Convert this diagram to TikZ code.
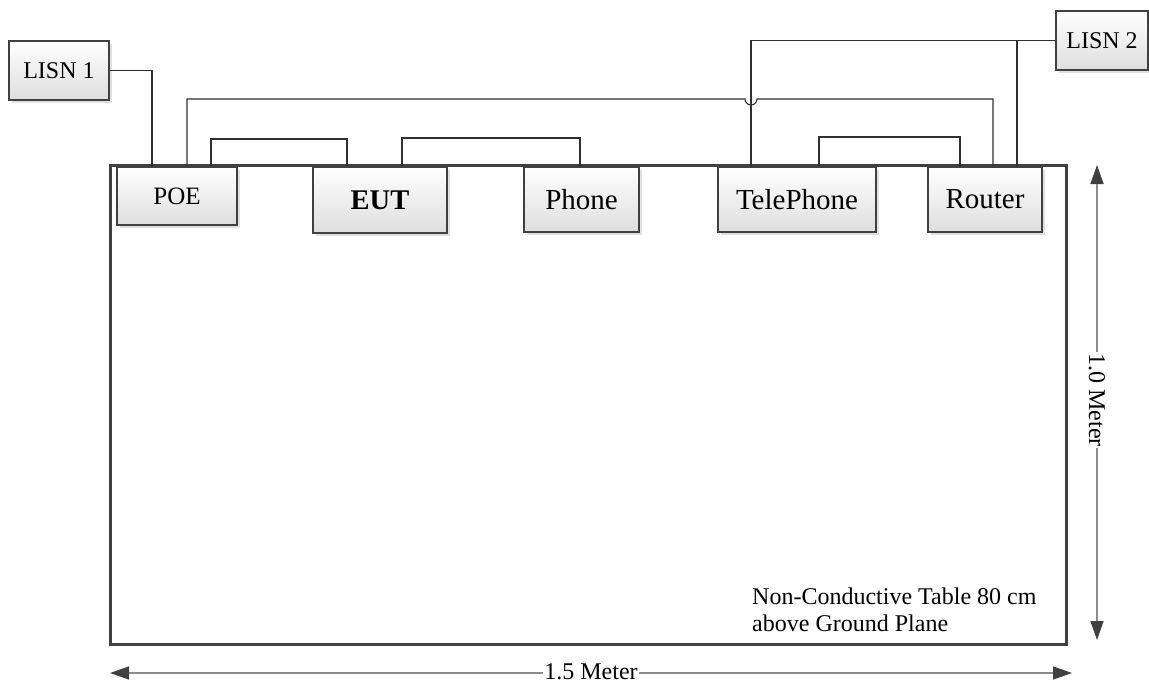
\documentclass[tikz,border=0pt]{standalone}
\usepackage{fontspec}
\setmainfont{Liberation Serif}
\usetikzlibrary{arrows.meta,shadows}
\definecolor{edge}{HTML}{404040}
\definecolor{dimline}{HTML}{8C8C8C}
\definecolor{wire}{HTML}{303030}
\tikzset{
  devbox/.style={draw=edge, line width=2pt, top color=white, bottom color=black!13,
    drop shadow={shadow xshift=3pt, shadow yshift=-3pt, fill=black!12, opacity=1},
    inner sep=0pt, anchor=north west},
  wireline/.style={draw=wire, line width=1.1pt},
  dimarrow/.style={draw=dimline, line width=1.4pt,
    {Triangle[length=19pt,width=13pt,fill=edge,color=edge]}-{Triangle[length=19pt,width=13pt,fill=edge,color=edge]}},
  dimlabel/.style={fill=white, inner sep=1pt, font=\fontsize{24}{28}\selectfont},
  big/.style={font=\fontsize{29}{33}\selectfont},
}
\begin{document}
\begin{tikzpicture}[x=1pt,y=-1pt]
\useasboundingbox (0,0) rectangle (1149,686);
% table
\draw[edge, line width=3pt] (110,165) rectangle (1066,644);
% devices
\node[devbox, minimum width=120pt, minimum height=58pt, font=\fontsize{25}{29}\selectfont] (poe) at (116,166) {POE};
\node[devbox, minimum width=134pt, minimum height=66pt, font=\fontsize{28.5}{33}\selectfont\bfseries] (eut) at (312,166) {EUT};
\node[devbox, big, minimum width=115pt, minimum height=65pt] (phone) at (523,166) {Phone};
\node[devbox, big, minimum width=158pt, minimum height=65pt] (tel) at (717,166) {TelePhone};
\node[devbox, big, minimum width=114pt, minimum height=65pt] (router) at (927,166) {Router};
\node[devbox, minimum width=100pt, minimum height=59pt, font=\fontsize{24}{28}\selectfont] (lisn1) at (8,40) {LISN 1};
\node[devbox, minimum width=92pt, minimum height=59pt, font=\fontsize{24}{28}\selectfont] (lisn2) at (1055,10) {LISN 2};
% wires
\draw[wireline] (lisn1.east) -| (152,0 |- poe.north);
\draw[wireline] (211,0 |- poe.north) -- (211,139) -| (347,0 |- eut.north);
\draw[wireline] (402,0 |- eut.north) -- (402,138) -| (580,0 |- phone.north);
\draw[wireline] (819,0 |- tel.north) -- (819,137) -| (960,0 |- router.north);
\draw[wireline] (751,0 |- tel.north) |- (lisn2.west);
\draw[wireline] (1017,0 |- router.north) -- (1017,0 |- lisn2.west);
\draw[wireline] (187,0 |- poe.north) -- (187,99) -- (745,99)
  arc[start angle=180, end angle=0, radius=6] -- (993,99) -- (993,0 |- router.north);
% dimensions
\coordinate (vtop) at (1097,165);
\coordinate (vbot) at (1097,640);
\coordinate (hleft) at (110,673);
\coordinate (hright) at (1072,673);
\draw[dimarrow] (vtop) -- (vbot);
\draw[dimarrow] (hleft) -- (hright);
\node[dimlabel, rotate=-90] (vlab) at (1097,400) {1.0 Meter};
\node[dimlabel] (hlab) at (591,672) {1.5 Meter};
% note
\node[anchor=south west, inner sep=0pt, align=left, font=\fontsize{24}{27}\selectfont] (note) at (752,632)
  {Non-Conductive Table 80 cm\\above Ground Plane};
\end{tikzpicture}
\end{document}
